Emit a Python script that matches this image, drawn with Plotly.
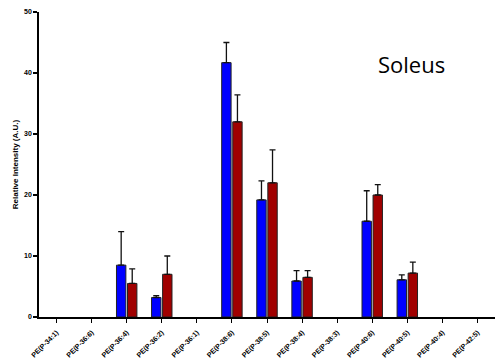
import plotly.graph_objects as go

categories = ["PE(P-34:1)", "PE(P-36:6)", "PE(P-36:4)", "PE(P-36:2)", "PE(P-36:1)",
              "PE(P-38:6)", "PE(P-38:5)", "PE(P-38:4)", "PE(P-38:3)", "PE(P-40:6)",
              "PE(P-40:5)", "PE(P-40:4)", "PE(P-42:5)"]
blue_vals = [None, None, 8.5, 3.2, None, 41.7, 19.2, 5.9, None, 15.7, 6.1, None, None]
blue_err = [None, None, 5.5, 0.3, None, 3.3, 3.1, 1.7, None, 5.0, 0.8, None, None]
red_vals = [None, None, 5.5, 7.0, None, 32.0, 22.0, 6.5, None, 20.0, 7.2, None, None]
red_err = [None, None, 2.4, 3.0, None, 4.4, 5.4, 1.1, None, 1.7, 1.8, None, None]
y_ticks = [0, 10, 20, 30, 40, 50]

fig = go.Figure()
for vals, errs, col in [(blue_vals, blue_err, "#0000FF"), (red_vals, red_err, "#A00000")]:
    fig.add_trace(go.Bar(
        x=categories, y=vals,
        marker=dict(color=col, line=dict(color="#222222", width=1)),
        error_y=dict(type="data", array=errs, symmetric=False,
                     arrayminus=[0] * len(errs), color="#111111", thickness=1.3, width=3),
        showlegend=False,
    ))

fig.update_layout(
    width=498, height=359,
    margin=dict(l=39, r=3, t=12, b=42),
    paper_bgcolor="white", plot_bgcolor="white",
    barmode="group", bargap=0.37, bargroupgap=0.15,
    font=dict(family="Liberation Sans, Arial", color="black"),
    xaxis=dict(
        range=[-0.5, 12.5], showline=True, linecolor="black", linewidth=1.5,
        ticks="outside", ticklen=4, tickwidth=1, tickcolor="black", automargin=False,
        tickangle=-45, ticklabelstandoff=3,
        tickfont=dict(size=7, family="Liberation Sans, Arial", weight="bold", color="black"),
        showgrid=False, zeroline=False,
    ),
    yaxis=dict(
        range=[0, 50], tickvals=y_ticks, showline=True, linecolor="black", linewidth=1.5,
        ticks="outside", ticklen=4, tickwidth=1.5, tickcolor="black", automargin=False,
        tickfont=dict(size=7, family="Liberation Sans, Arial", weight="bold", color="black"),
        showgrid=False, zeroline=False,
        title=dict(text="Relative Intensity (A.U.)", standoff=4,
                   font=dict(size=8, family="Liberation Sans, Arial", weight="bold", color="black")),
    ),
    annotations=[dict(text="Soleus", xref="paper", yref="paper", x=0.816, y=0.83,
                      xanchor="center", yanchor="middle", showarrow=False,
                      font=dict(size=22, family="Open Sans, Carlito, sans-serif", color="black"))],
)

fig.write_html("out.html", config={"displayModeBar": False},
               post_script="document.body.style.margin='0';document.body.style.padding='0';")
